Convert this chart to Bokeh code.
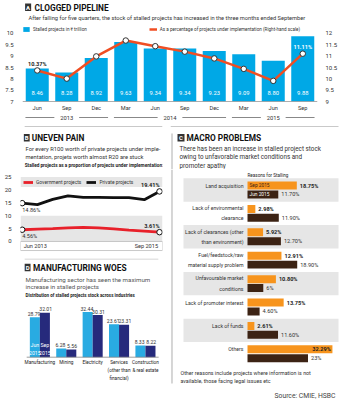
import numpy as np
from bokeh.plotting import figure
from bokeh.layouts import column, row
from bokeh.models import (Range1d, LinearAxis, FixedTicker, NumeralTickFormatter, Span,
                          BoxAnnotation, Legend, LegendItem, ColumnDataSource)
from bokeh.core.properties import value
from bokeh.embed import file_html
from bokeh.resources import INLINE

# ---------------- data ----------------
# A: clogged pipeline
quarters = ["Jun", "Sep", "Dec", "Mar", "Jun", "Sep", "Dec", "Mar", "Jun", "Sep"]
years = ["2013", "2014", "2015"]
year_first = [0, 3, 7]
year_last = [2, 6, 9]
stalled_stock = [8.46, 8.28, 8.92, 9.63, 9.34, 9.34, 9.23, 9.09, 8.80, 9.88]
stalled_pct = [10.37, 10.01, 10.99, 11.69, 11.44, 11.20, 10.90, 10.44, 9.91, 11.11]
stock_ticks = [7, 7.5, 8, 8.5, 9, 9.5, 10]
pct_ticks = [9, 9.5, 10, 10.5, 11, 11.5, 12]

# B: uneven pain
period_labels = ["Jun 2013", "Sep 2015"]
govt_share = [4.56, 4.8, 5.0, 5.3, 5.5, 5.3, 4.9, 4.4, 4.0, 3.61]
private_share = [14.86, 14.3, 16.3, 17.7, 17.1, 17.1, 17.0, 17.0, 16.2, 19.41]
share_ticks = [0, 5, 10, 15, 20, 25]

# D: manufacturing woes
industries = ["Manufacturing", "Mining", "Electricity",
              "Services\n(other than\nfinancial)", "Construction\n& real estate"]
ind_jun15 = [28.79, 6.28, 32.44, 23.61, 8.33]
ind_sep15 = [32.01, 5.56, 30.31, 23.31, 8.22]

# C: macro problems
reasons = ["Land acquisition", "Lack of environmental\nclearance",
           "Lack of clearances (other\nthan environment)",
           "Fuel/feedstock/raw\nmaterial supply problem",
           "Unfavourable market\nconditions", "Lack of promoter interest",
           "Lack of funds", "Others"]
reason_sep15 = [18.75, 2.98, 5.92, 12.91, 10.80, 13.75, 2.61, 32.29]
reason_jun15 = [11.70, 11.90, 12.70, 18.90, 6, 4.60, 11.60, 23]
reason_sep_lbl = ["18.75%", "2.98%", "5.92%", "12.91%", "10.80%", "13.75%", "2.61%", "32.29%"]
reason_jun_lbl = ["11.70%", "11.90%", "12.70%", "18.90%", "6%", "4.60%", "11.60%", "23%"]

# ---------------- style ----------------
FONT = "Roboto"
BLUE = "#00a8e6"
RED_ORANGE = "#f04e23"
GOV_RED = "#e8202a"
JUN_BLUE = "#29abe2"
SEP_NAVY = "#262a7c"
C_ORANGE = "#f7941d"
C_BROWN = "#3c2314"
BAND = "#e6e6e6"
DARK = "#222222"
TITLE_SIZE = 8.3


def canvas(w, h):
    p = figure(width=w, height=h, x_range=Range1d(0, w), y_range=Range1d(h, 0),
               output_backend="svg", toolbar_location=None, min_border=0,
               x_axis_location=None, y_axis_location=None, outline_line_color=None)
    p.grid.visible = False
    return p


def txt(p, x, y, s, size, color=DARK, bold=False, align="left", baseline="middle"):
    p.text(x=[x], y=[y], text=[s], text_font=value(FONT), text_font_size=f"{size}px",
           text_font_style="bold" if bold else "normal", text_color=color,
           text_align=align, text_baseline=baseline)


def badge(p, x, y, letter):
    p.quad(left=[x], right=[x + 7], top=[y], bottom=[y + 7.5], fill_color="#333333", line_color=None)
    txt(p, x + 3.5, y + 3.9, letter, 6, "white", bold=True, align="center")


def style_axis(ax):
    ax.axis_line_color = None
    ax.major_tick_line_color = None
    ax.minor_tick_line_color = None
    ax.major_label_text_font = FONT
    ax.major_label_text_font_size = "6px"
    ax.major_label_text_color = "#333333"
    ax.major_label_standoff = 3


# ---------------- A header ----------------
hA = canvas(341, 24)
badge(hA, 3, 3, "A")
txt(hA, 14, 7, "CLOGGED PIPELINE", TITLE_SIZE, "#111111", bold=True)
txt(hA, 7, 17, "After falling for five quarters, the stock of stalled projects has increased in the three months ended September", 5.7, "#333333")

# ---------------- A chart ----------------
idx = np.arange(len(quarters))
srcA = ColumnDataSource(dict(x=idx, stock=stalled_stock, pct=stalled_pct,
                             stock_lbl=[f"{v:.2f}" for v in stalled_stock], q=quarters))
pA = figure(width=341, height=100, x_range=Range1d(-0.5, 9.5), y_range=Range1d(5.9854, 10.397),
            output_backend="svg", toolbar_location=None, min_border_left=22, min_border_right=24,
            min_border_top=0, min_border_bottom=0, x_axis_location=None, y_axis_location="left",
            outline_line_color=None)
pA.grid.visible = False
pA.yaxis.ticker = FixedTicker(ticks=stock_ticks)
pA.yaxis.formatter = NumeralTickFormatter(format="0.[0]")
style_axis(pA.yaxis[0])
pA.extra_y_ranges = {"pct": Range1d(7.9854, 12.397)}
rax = LinearAxis(y_range_name="pct", ticker=FixedTicker(ticks=pct_ticks),
                 formatter=NumeralTickFormatter(format="0.[0]"))
style_axis(rax)
rax.major_label_standoff = 2
pA.add_layout(rax, "right")

bars = pA.vbar(x="x", top="stock", bottom=7, width=0.78, source=srcA, fill_color=BLUE, line_color=None)
pA.add_layout(Span(location=7, dimension="width", line_color="#999999", line_width=0.8))
pA.text(x="x", y=7.353, text="stock_lbl", source=srcA, text_font=value(FONT), text_font_size="5.8px",
        text_color="white", text_align="center", text_baseline="middle")
ln = pA.line(x="x", y="pct", y_range_name="pct", source=srcA, line_color=RED_ORANGE, line_width=2.5)
pA.scatter(x="x", y="pct", y_range_name="pct", source=srcA, size=5.5, fill_color="white",
           line_color="#333333", line_width=1)
pA.text(x=[idx[0]], y=[stalled_pct[0]], text=[f"{stalled_pct[0]:.2f}%"], y_range_name="pct",
        text_font=value(FONT), text_font_size="5.6px", text_font_style="bold", text_color=DARK,
        text_align="center", text_baseline="bottom", y_offset=-3.5)
pA.text(x=[idx[-1]], y=[stalled_pct[-1]], text=[f"{stalled_pct[-1]:.2f}%"], y_range_name="pct",
        text_font=value(FONT), text_font_size="5.6px", text_font_style="bold", text_color="white",
        text_align="center", text_baseline="bottom", y_offset=-4)
pA.text(x="x", y=6.735, text="q", source=srcA, text_font=value(FONT), text_font_size="5.6px",
        text_color="#333333", text_align="center", text_baseline="middle")
year_mid = [(f + l) / 2 for f, l in zip(year_first, year_last)]
pA.text(x=year_mid, y=[6.294] * len(years), text=years, text_font=value(FONT), text_font_size="5.8px",
        text_color="#333333", text_align="center", text_baseline="middle")
pA.segment(x0=[f - 0.4 for f in year_first] + [m + 0.42 for m in year_mid],
           y0=[6.294] * 6,
           x1=[m - 0.42 for m in year_mid] + [l + 0.4 for l in year_last],
           y1=[6.294] * 6, line_color="#555555", line_width=0.7)
legA = Legend(items=[LegendItem(label="Stalled projects in ₹ trillion", renderers=[bars]),
                     LegendItem(label="As a percentage of projects under implementation (Right-hand scale)",
                                renderers=[ln])],
              orientation="horizontal", location=(0, 92), glyph_width=8, glyph_height=6,
              label_text_font=FONT, label_text_font_size="4.6px", label_text_color="#333333",
              label_height=6, label_standoff=3, spacing=62, padding=0, margin=0,
              background_fill_alpha=0, border_line_color=None)
pA.add_layout(legA)

# ---------------- B header ----------------
hB = canvas(170, 45)
hB.segment(x0=[5], y0=[2], x1=[170], y1=[2], line_color="#bbbbbb", line_width=0.8)
badge(hB, 4, 9.5, "B")
txt(hB, 13.5, 13, "UNEVEN PAIN", TITLE_SIZE, "#111111", bold=True)
txt(hB, 6, 24, "For every R100 worth of private projects under imple-", 5.75, "#333333")
txt(hB, 6, 32.5, "mentation,  projets worth almost R20 are stuck", 5.75, "#333333")
txt(hB, 5, 41, "Stalled projects as a proportion of projects under implementation:", 4.7, DARK, bold=True)

# ---------------- B chart ----------------
srcB = ColumnDataSource(dict(x=idx, gov=govt_share, prv=private_share))
pB = figure(width=170, height=89, x_range=Range1d(-0.11, 9.195), y_range=Range1d(-6.59, 27.91),
            output_backend="svg", toolbar_location=None, min_border_left=20, min_border_right=8,
            min_border_top=0, min_border_bottom=0, x_axis_location=None, y_axis_location="left",
            outline_line_color=None)
pB.grid.visible = False
pB.yaxis.ticker = FixedTicker(ticks=share_ticks)
style_axis(pB.yaxis[0])
pB.add_layout(BoxAnnotation(bottom=0, top=10, fill_color=BAND, fill_alpha=1, line_color=None, level="underlay"))
pB.add_layout(BoxAnnotation(bottom=21.1, top=25, fill_color=BAND, fill_alpha=1, line_color=None, level="underlay"))
pB.quad(left=[-0.11], right=[9.195], top=[0], bottom=[-3.5], fill_color=None, line_color="#bbbbbb", line_width=0.8)
gl = pB.line(x="x", y="gov", source=srcB, line_color=GOV_RED, line_width=2.8)
pl = pB.line(x="x", y="prv", source=srcB, line_color="#111111", line_width=2.8)
ends = [0, len(idx) - 1]
pB.scatter(x=[idx[i] for i in ends] * 2, y=[private_share[i] for i in ends] + [govt_share[i] for i in ends],
           size=5.5, fill_color="white", line_color="#111111", line_width=1)
pB.text(x=[idx[0], idx[0]], y=[private_share[0], govt_share[0]],
        text=[f"{private_share[0]:.2f}%", f"{govt_share[0]:.2f}%"], text_font=value(FONT),
        text_font_size="5.6px", text_color="#333333", text_align="left", text_baseline="top", y_offset=3.5)
pB.text(x=[idx[-1], idx[-1]], y=[private_share[-1], govt_share[-1]],
        text=[f"{private_share[-1]:.2f}%", f"{govt_share[-1]:.2f}%"], text_font=value(FONT),
        text_font_size="5.6px", text_font_style="bold", text_color=DARK, text_align="right",
        text_baseline="bottom", y_offset=-3.5)
pB.text(x=[idx[0], idx[-1]], y=[-1.9, -1.9], text=period_labels, text_font=value(FONT),
        text_font_size="5.6px", text_color="#333333", text_align=["left", "right"],
        x_offset=[1.5, -1.5], text_baseline="middle")
legB = Legend(items=[LegendItem(label="Government projects", renderers=[gl]),
                     LegendItem(label="Private projects", renderers=[pl])],
              orientation="horizontal", location=(3, 73), glyph_width=10, glyph_height=6,
              label_text_font=FONT, label_text_font_size="4.9px", label_text_color="#333333",
              label_height=6, label_standoff=3, spacing=5, padding=0, margin=0,
              background_fill_alpha=0, border_line_color=None)
pB.add_layout(legB)

# ---------------- D header ----------------
hD = canvas(170, 41)
hD.segment(x0=[5], y0=[0.5], x1=[165], y1=[0.5], line_color="#bbbbbb", line_width=0.8)
badge(hD, 5, 5.3, "D")
txt(hD, 15, 9, "MANUFACTURING WOES", TITLE_SIZE, "#111111", bold=True)
txt(hD, 6, 21.3, "Manufacturing sector has seen the maximum", 6.2, "#555555")
txt(hD, 6, 28.8, "increase in stalled projects", 6.2, "#555555")
txt(hD, 6, 36.5, "Distribution of stalled projects stock across industries", 4.5, DARK, bold=True)

# ---------------- D chart ----------------
ix = np.arange(len(industries))
pD = figure(width=170, height=101, x_range=Range1d(-0.734, 4.646), y_range=Range1d(-31.15, 41.5),
            output_backend="svg", toolbar_location=None, min_border=0,
            x_axis_location=None, y_axis_location=None, outline_line_color=None)
pD.grid.visible = False
pD.vbar(x=ix - 0.19, top=ind_jun15, width=0.38, fill_color=JUN_BLUE, line_color=None)
pD.vbar(x=ix + 0.19, top=ind_sep15, width=0.38, fill_color=SEP_NAVY, line_color=None)
pD.segment(x0=[-0.5], y0=[0], x1=[4.5], y1=[0], line_color="#888888", line_width=0.8)
pD.text(x=list(ix - 0.19) + list(ix + 0.19), y=ind_jun15 + ind_sep15,
        text=[f"{v:.2f}" for v in ind_jun15 + ind_sep15], text_font=value(FONT), text_font_size="5.1px",
        text_color="#333333", text_align="center", text_baseline="bottom", y_offset=-1.5,
        x_offset=[-0.8] * len(ix) + [0.8] * len(ix))
pD.text(x=[ix[0] - 0.19, ix[0] + 0.19], y=[0, 0], text=["Jun\n2015", "Sep\n2015"], text_font=value(FONT),
        text_font_size="5.2px", text_color="white", text_align="center", text_baseline="bottom",
        y_offset=-1.5, text_line_height=1.2)
pD.text(x=ix, y=[0] * len(ix), text=industries, text_font=value(FONT), text_font_size="4.7px",
        text_color=DARK, text_align="center", text_baseline="top", y_offset=3, text_line_height=1.55)

# ---------------- C header ----------------
hC = canvas(171, 45)
hC.segment(x0=[0], y0=[2], x1=[168], y1=[2], line_color="#bbbbbb", line_width=0.8)
hC.segment(x0=[1.5], y0=[9], x1=[1.5], y1=[45], line_color="#999999", line_width=0.8)
badge(hC, 7, 9.5, "C")
txt(hC, 16, 13, "MACRO PROBLEMS", TITLE_SIZE, "#111111", bold=True)
txt(hC, 9, 24, "There has been an increase in stalled project stock", 6.3, "#333333")
txt(hC, 9, 32.5, "owing to unfavorable market conditions and", 6.3, "#333333")
txt(hC, 9, 41, "promoter apathy", 6.3, "#333333")

# ---------------- C chart ----------------
ir = np.arange(len(reasons))
pC = figure(width=171, height=231, x_range=Range1d(-29.28, 35.74), y_range=Range1d(8.996, -0.876),
            output_backend="svg", toolbar_location=None, min_border=0,
            x_axis_location=None, y_axis_location=None, outline_line_color=None)
pC.grid.visible = False
pC.hbar(y=ir[::2], left=-24.34, right=34.6, height=1.0, fill_color=BAND, line_color=None)
pC.segment(x0=[-28.71], y0=[-0.876], x1=[-28.71], y1=[8.27], line_color="#999999", line_width=0.8)
pC.hbar(y=ir - 0.19, left=0, right=reason_sep15, height=0.34, fill_color=C_ORANGE, line_color=None)
pC.hbar(y=ir + 0.19, left=0, right=reason_jun15, height=0.34, fill_color=C_BROWN, line_color=None)
lbl_y = [i if "\n" in r else i - 0.19 for i, r in zip(ir, reasons)]
pC.text(x=[0] * len(ir), y=lbl_y, text=reasons, text_font=value(FONT), text_font_size="5.2px",
        text_color="#333333", text_align="right", text_baseline="middle", x_offset=-4, text_line_height=1.7)
max_inside = 30
pC.text(x=reason_sep15, y=ir - 0.19, text=reason_sep_lbl, text_font=value(FONT), text_font_size="5.6px",
        text_font_style="bold", text_color=DARK,
        text_align=["right" if v > max_inside else "left" for v in reason_sep15],
        x_offset=[-1.5 if v > max_inside else 3 for v in reason_sep15], text_baseline="middle")
pC.text(x=reason_jun15, y=ir + 0.19, text=reason_jun_lbl, text_font=value(FONT), text_font_size="5.6px",
        text_color="#333333", text_align="left", x_offset=3, text_baseline="middle")
pC.text(x=[0, 0], y=[ir[0] - 0.19, ir[0] + 0.19], text=["Sep 2015", "Jun 2015"], text_font=value(FONT),
        text_font_size="4.8px", text_color=[C_BROWN, "white"], text_align="left", x_offset=2,
        text_baseline="middle")
txt(pC, 0, -0.62, "Reasons for Stalling", 4.6, DARK)
pC.text(x=[-25.48, -25.48], y=[7.80, 8.18],
        text=["Other reasons include projects where information is not",
              "available, those facing legal issues etc"],
        text_font=value(FONT), text_font_size="5.3px", text_color="#333333", text_align="left",
        text_baseline="middle")
txt(pC, 33.46, 8.825, "Source: CMIE, HSBC", 6.8, "#444444", align="right")

# ---------------- layout ----------------
left = column(hB, pB, hD, pD, spacing=0)
right = column(hC, pC, spacing=0)
layout = column(hA, pA, row(left, right, spacing=0), spacing=0)

open("out.html", "w").write(file_html(layout, INLINE))
